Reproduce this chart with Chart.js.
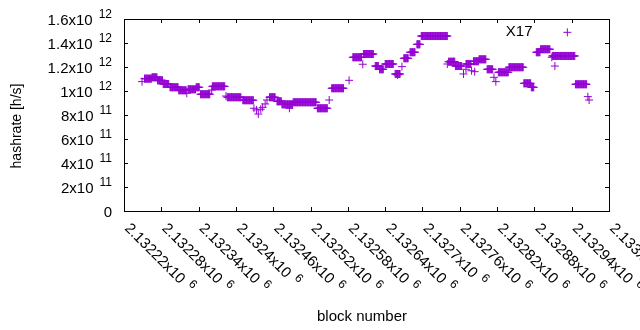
<!DOCTYPE html>
<html>
<head>
<meta charset="utf-8">
<script src="https://cdn.jsdelivr.net/npm/chart.js@4.4.1/dist/chart.umd.min.js"></script>
<style>
    body { margin: 0; background: #fff; }
    canvas { display: block; }
</style>
</head>
<body>
<canvas id="hashChart" width="640" height="330"></canvas>
<script>
// runs of blocks that share the same hashrate (start block, end block, value)
const runStart = [2132249, 2132253, 2132265, 2132274, 2132283, 2132294, 2132308, 2132321, 2132323, 2132336,
    2132343, 2132361, 2132362, 2132384, 2132386, 2132411, 2132429, 2132433, 2132436, 2132440,
    2132443, 2132447, 2132450, 2132454, 2132466, 2132474, 2132486, 2132492, 2132531, 2132550,
    2132554, 2132582, 2132588, 2132604, 2132605, 2132624, 2132631, 2132640, 2132656, 2132660,
    2132667, 2132670, 2132680, 2132691, 2132698, 2132740, 2132742, 2132753, 2132766, 2132770,
    2132770, 2132779, 2132784, 2132782, 2132791, 2132804, 2132815, 2132818, 2132822, 2132839,
    2132863, 2132875, 2132883, 2132890, 2132908, 2132909, 2132913, 2132933, 2132946, 2132966,
    2132968];
const runEnd = [2132249, 2132264, 2132273, 2132282, 2132292, 2132307, 2132320, 2132321, 2132335, 2132341,
    2132358, 2132361, 2132382, 2132384, 2132408, 2132428, 2132429, 2132433, 2132436, 2132440,
    2132443, 2132447, 2132450, 2132463, 2132473, 2132491, 2132486, 2132529, 2132547, 2132550,
    2132573, 2132582, 2132602, 2132604, 2132621, 2132629, 2132637, 2132653, 2132664, 2132660,
    2132667, 2132677, 2132688, 2132696, 2132740, 2132740, 2132752, 2132763, 2132766, 2132770,
    2132778, 2132779, 2132784, 2132790, 2132802, 2132813, 2132815, 2132818, 2132838, 2132862,
    2132874, 2132879, 2132889, 2132905, 2132908, 2132945, 2132913, 2132933, 2132964, 2132966,
    2132968];
const runHashrate = [1.078e12, 1.103e12, 1.114e12, 1.089e12, 1.058e12, 1.031e12, 1.006e12, 0.981e12, 1.014e12, 1.031e12,
    0.973e12, 1.008e12, 1.039e12, 0.958e12, 0.948e12, 0.923e12, 0.856e12, 0.842e12, 0.808e12, 0.848e12,
    0.864e12, 0.892e12, 0.925e12, 0.948e12, 0.914e12, 0.889e12, 0.856e12, 0.906e12, 0.856e12, 0.925e12,
    1.023e12, 1.089e12, 1.281e12, 1.223e12, 1.308e12, 1.208e12, 1.181e12, 1.225e12, 1.142e12, 1.133e12,
    1.203e12, 1.273e12, 1.323e12, 1.389e12, 1.458e12, 1.225e12, 1.244e12, 1.208e12, 1.142e12, 1.181e12,
    1.225e12, 1.169e12, 1.161e12, 1.248e12, 1.264e12, 1.181e12, 1.114e12, 1.078e12, 1.156e12, 1.198e12,
    1.064e12, 1.031e12, 1.323e12, 1.348e12, 1.281e12, 1.292e12, 1.208e12, 1.489e12, 1.056e12, 0.953e12,
    0.925e12];

const yTicks = [0, 2e11, 4e11, 6e11, 8e11, 1e12, 1.2e12, 1.4e12, 1.6e12];
const yTickLabels = [["0", ""], ["2x10", "11"], ["4x10", "11"], ["6x10", "11"], ["8x10", "11"],
    ["1x10", "12"], ["1.2x10", "12"], ["1.4x10", "12"], ["1.6x10", "12"]];
const xTicks = [2132220, 2132280, 2132340, 2132400, 2132460, 2132520, 2132580, 2132640, 2132700,
    2132760, 2132820, 2132880, 2132940, 2133000];
const xTickLabels = ["2.13222", "2.13228", "2.13234", "2.1324", "2.13246", "2.13252", "2.13258",
    "2.13264", "2.1327", "2.13276", "2.13282", "2.13288", "2.13294", "2.133"];

const labelText = "X17";
const labelBlock = 2132834;
const labelHashrate = 1.496e12;

const points = [];
runStart.forEach((start, i) => {
    for (let b = start; b <= runEnd[i]; b++) {
        points.push({ x: b, y: runHashrate[i] });
    }
});

const FONT = "15px 'Liberation Sans', Arial, sans-serif";
const SUP_FONT = "12px 'Liberation Sans', Arial, sans-serif";
const YTITLE_FONT = "14px 'Liberation Sans', Arial, sans-serif";

// text with an exponent after it
const drawPowerText = (ctx, x, y, main, sup) => {
    ctx.font = FONT;
    ctx.fillText(main, x, y);
    if (sup) {
        const w = ctx.measureText(main).width;
        ctx.font = SUP_FONT;
        ctx.fillText(sup, x + w + 6, y - 6);
    }
};

const powerTextWidth = (ctx, main, sup) => {
    ctx.font = FONT;
    let w = ctx.measureText(main).width;
    if (sup) {
        ctx.font = SUP_FONT;
        w += 6 + ctx.measureText(sup).width;
    }
    return w;
};

const gnuplotFrame = {
    id: "gnuplotFrame",
    afterDraw: (chart) => {
        const ctx = chart.ctx;
        const area = chart.chartArea;
        const xs = chart.scales.x;
        const ys = chart.scales.y;
        const tick = 4;
        ctx.save();
        ctx.strokeStyle = "#000";
        ctx.fillStyle = "#000";
        ctx.lineWidth = 1;
        ctx.strokeRect(area.left + 0.5, area.top + 0.5, area.right - area.left, area.bottom - area.top);

        ctx.beginPath();
        yTicks.forEach(v => {
            const py = Math.round(ys.getPixelForValue(v)) + 0.5;
            ctx.moveTo(area.left, py);
            ctx.lineTo(area.left + tick, py);
            ctx.moveTo(area.right, py);
            ctx.lineTo(area.right - tick, py);
        });
        xTicks.forEach(v => {
            const px = Math.round(xs.getPixelForValue(v)) + 0.5;
            ctx.moveTo(px, area.bottom);
            ctx.lineTo(px, area.bottom - tick);
            ctx.moveTo(px, area.top);
            ctx.lineTo(px, area.top + tick);
        });
        ctx.stroke();

        // y tick labels, right aligned
        ctx.textAlign = "left";
        ctx.textBaseline = "middle";
        yTicks.forEach((v, i) => {
            const py = ys.getPixelForValue(v) + 2;
            const [main, sup] = yTickLabels[i];
            const w = powerTextWidth(ctx, main, sup);
            drawPowerText(ctx, 112 - w, py, main, sup);
        });

        // x tick labels, rotated down to the right
        ctx.textBaseline = "alphabetic";
        xTicks.forEach((v, i) => {
            const px = xs.getPixelForValue(v);
            ctx.save();
            ctx.translate(px, 229);
            ctx.rotate(Math.PI / 4);
            drawPowerText(ctx, 0, 0, xTickLabels[i] + "x10", "6");
            ctx.restore();
        });

        // axis titles
        ctx.font = FONT;
        ctx.textAlign = "center";
        ctx.fillText("block number", 362, 321);
        ctx.save();
        ctx.font = YTITLE_FONT;
        ctx.translate(21, 126);
        ctx.rotate(-Math.PI / 2);
        ctx.fillText("hashrate [h/s]", 0, 0);
        ctx.restore();

        // label inside the plot
        ctx.font = FONT;
        ctx.textAlign = "left";
        ctx.textBaseline = "middle";
        ctx.fillText(labelText, xs.getPixelForValue(labelBlock), ys.getPixelForValue(labelHashrate));
        ctx.restore();
    }
};

new Chart(document.getElementById("hashChart").getContext("2d"), {
    type: "scatter",
    data: {
        datasets: [
            {
                label: "hashrate",
                data: points,
                pointStyle: "cross",
                pointRadius: 4,
                pointHoverRadius: 4,
                borderColor: "#9400d3",
                backgroundColor: "#9400d3",
                borderWidth: 1,
            },
        ],
    },
    options: {
        responsive: false,
        animation: false,
        layout: {
            padding: { left: 124, right: 31, top: 19, bottom: 119 },
        },
        plugins: {
            legend: { display: false },
            tooltip: { enabled: false },
        },
        scales: {
            x: {
                type: "linear",
                min: 2132220,
                max: 2133000,
                display: false,
            },
            y: {
                min: 0,
                max: 1.6e12,
                display: false,
            },
        },
    },
    plugins: [gnuplotFrame],
});
</script>
</body>
</html>
